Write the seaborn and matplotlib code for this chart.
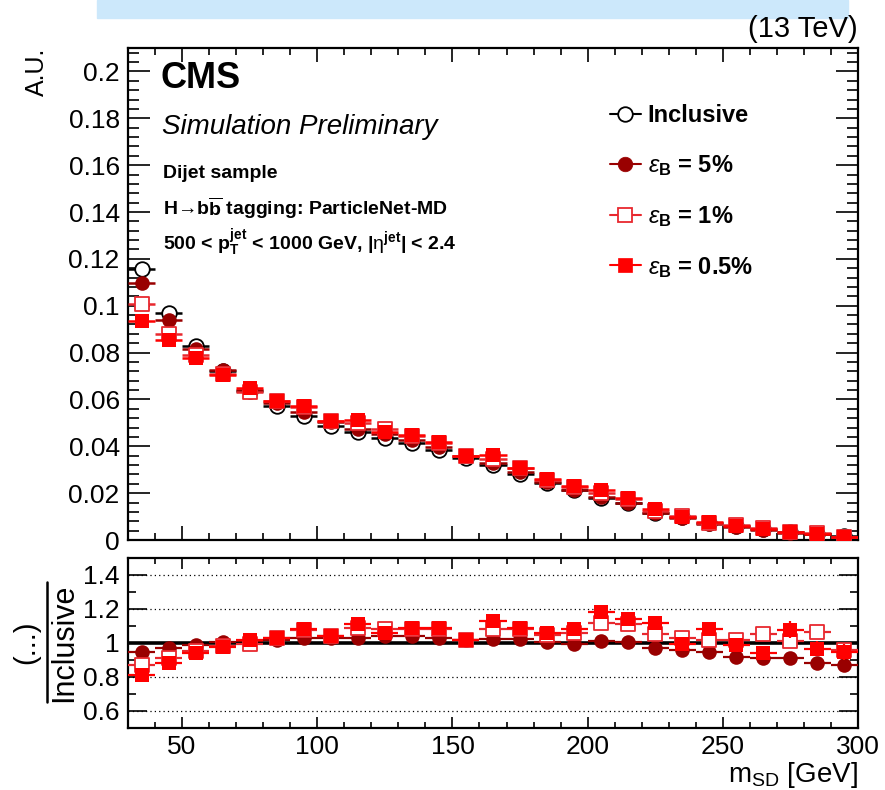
import numpy as np
import pandas as pd
import matplotlib
matplotlib.use("Agg")
import matplotlib.pyplot as plt
import seaborn as sns
from matplotlib.lines import Line2D
from matplotlib.patches import Rectangle
from matplotlib.ticker import MultipleLocator, FormatStrFormatter

# ---------------- data ----------------
bin_centers = [35, 45, 55, 65, 75, 85, 95, 105, 115, 125, 135, 145, 155, 165,
               175, 185, 195, 205, 215, 225, 235, 245, 255, 265, 275, 285, 295]
bin_half_width = 5

inclusive = [0.1156, 0.0968, 0.0827, 0.0722, 0.0635, 0.0574, 0.0530, 0.0488, 0.0460,
             0.0435, 0.0412, 0.0385, 0.0351, 0.0322, 0.0283, 0.0244, 0.0213, 0.0181,
             0.0156, 0.0117, 0.0099, 0.0072, 0.0061, 0.0049, 0.0033, 0.0027, 0.0015]
eff_5pct = [0.1098, 0.0939, 0.0815, 0.0726, 0.0641, 0.0585, 0.0546, 0.0503, 0.0474,
            0.0452, 0.0428, 0.0397, 0.0358, 0.0330, 0.0289, 0.0246, 0.0212, 0.0183,
            0.0157, 0.01135, 0.00950, 0.00684, 0.00561, 0.00446, 0.00300, 0.00238, 0.00131]
eff_1pct = [0.10057, 0.08809, 0.07898, 0.07076, 0.06318, 0.05912, 0.05698, 0.05075, 0.05014,
            0.04720, 0.04450, 0.04158, 0.03580, 0.03478, 0.03056, 0.02562, 0.02258, 0.02027,
            0.01732, 0.01229, 0.01020, 0.00731, 0.00622, 0.00517, 0.00333, 0.00288, 0.00144]
eff_05pct = [0.09364, 0.08518, 0.07774, 0.07040, 0.06477, 0.05912, 0.05724, 0.05075, 0.05106,
             0.04611, 0.04491, 0.04197, 0.03580, 0.03639, 0.03085, 0.02586, 0.02300, 0.02136,
             0.01778, 0.01310, 0.00985, 0.00778, 0.00604, 0.00461, 0.00356, 0.00261, 0.00142]
# relative statistical uncertainties (ratio panel)
unc_1pct = [0.008, 0.008, 0.008, 0.008, 0.009, 0.009, 0.010, 0.010, 0.011, 0.011, 0.012, 0.012,
            0.013, 0.014, 0.014, 0.015, 0.016, 0.018, 0.018, 0.020, 0.021, 0.023, 0.024, 0.026,
            0.028, 0.030, 0.032]
unc_05pct = [0.010, 0.010, 0.010, 0.010, 0.012, 0.012, 0.014, 0.014, 0.016, 0.016, 0.018, 0.018,
             0.020, 0.022, 0.022, 0.024, 0.025, 0.028, 0.028, 0.030, 0.032, 0.036, 0.038, 0.040,
             0.045, 0.045, 0.050]

labels = ["Inclusive", r"$\varepsilon_{\mathbf{B}}$ = 5%",
          r"$\varepsilon_{\mathbf{B}}$ = 1%", r"$\varepsilon_{\mathbf{B}}$ = 0.5%"]

# ---------------- style ----------------
sns.set_theme(style="ticks")
FONT = "Liberation Sans"
plt.rcParams["font.family"] = [FONT, "DejaVu Sans"]
plt.rcParams["mathtext.fontset"] = "custom"
plt.rcParams["mathtext.rm"] = FONT
plt.rcParams["mathtext.it"] = FONT + ":italic"
plt.rcParams["mathtext.bf"] = FONT + ":bold"
plt.rcParams["mathtext.sf"] = FONT
plt.rcParams["axes.linewidth"] = 1.6
for k in ["text.color", "axes.labelcolor", "xtick.color", "ytick.color",
          "axes.edgecolor", "xtick.labelcolor", "ytick.labelcolor"]:
    plt.rcParams[k] = "black"

W, H = 885, 790
fig = plt.figure(figsize=(W / 100, H / 100), dpi=100)
fig.patch.set_facecolor("white")


def fx(px):
    return px / W


def fy(py):
    return 1 - py / H


ax1 = fig.add_axes([fx(128), fy(540), fx(858) - fx(128), fy(48) - fy(540)])
ax2 = fig.add_axes([fx(128), fy(728), fx(858) - fx(128), fy(558) - fy(728)])

# light blue band at top
fig.patches.append(Rectangle((fx(97), fy(18)), fx(848) - fx(97), 18 / H,
                             transform=fig.transFigure, color="#cce8fb", zorder=0))

C_INC = "black"
C_5 = "#990000"
C_1 = "#e8282e"
C_05 = "#ff0000"

x = np.array(bin_centers, dtype=float)
series = [
    (inclusive, C_INC, "o", "white", 1.3, 3),
    (eff_5pct, C_5, "o", C_5, 0.0, 4),
    (eff_1pct, C_1, "s", "white", 1.3, 5),
    (eff_05pct, C_05, "s", C_05, 0.0, 6),
]

MS = 10.5
for vals, col, mk, face, mew, z in series:
    ax1.errorbar(x, vals, xerr=bin_half_width, fmt="none", ecolor=col,
                 elinewidth=1.8, capsize=0, zorder=z)
    df = pd.DataFrame({"m": x, "v": vals})
    sns.scatterplot(data=df, x="m", y="v", ax=ax1, marker=mk, s=MS ** 2,
                    facecolor=face, edgecolor=col, linewidth=mew if mew else 0,
                    zorder=z + 0.5, legend=False)

# ratio panel
inc = np.array(inclusive)
ratio_specs = [
    (eff_5pct, None, C_5, "o", C_5, 0.0, 4),
    (eff_1pct, unc_1pct, C_1, "s", "white", 1.3, 5),
    (eff_05pct, unc_05pct, C_05, "s", C_05, 0.0, 6),
]
ax2.axhline(1.0, color="black", lw=2.6, zorder=2)
for g in [0.6, 0.8, 1.2, 1.4]:
    ax2.axhline(g, color="black", lw=0.9, ls=(0, (1, 2.5)), zorder=1)
for vals, unc, col, mk, face, mew, z in ratio_specs:
    r = np.array(vals) / inc
    yerr = None if unc is None else r * np.array(unc)
    ax2.errorbar(x, r, xerr=bin_half_width, yerr=yerr, fmt="none", ecolor=col,
                 elinewidth=1.6, capsize=0, zorder=z)
    df = pd.DataFrame({"m": x, "r": r})
    sns.scatterplot(data=df, x="m", y="r", ax=ax2, marker=mk, s=MS ** 2,
                    facecolor=face, edgecolor=col, linewidth=mew if mew else 0,
                    zorder=z + 0.5, legend=False)

# axes limits / ticks
for ax in (ax1, ax2):
    ax.set_xlim(30, 300)
    ax.xaxis.set_major_locator(MultipleLocator(50))
    ax.xaxis.set_minor_locator(MultipleLocator(10))
    ax.set_xlabel("")
    ax.set_ylabel("")
    for s in ax.spines.values():
        s.set_visible(True)
        s.set_linewidth(1.6)
        s.set_color("black")
    ax.set_facecolor("white")

ax1.set_ylim(0, 0.21)
ax1.yaxis.set_major_locator(MultipleLocator(0.02))
ax1.yaxis.set_minor_locator(MultipleLocator(0.004))
ax1.yaxis.set_major_formatter(FormatStrFormatter("%g"))
ax1.tick_params(axis="both", which="both", direction="in", top=True, right=True,
                colors="black", labelcolor="black", width=1.2)
ax1.tick_params(axis="y", which="major", length=16, labelsize=19, pad=6)
ax1.tick_params(axis="y", which="minor", length=8)
ax1.tick_params(axis="x", which="major", length=10, labelbottom=False)
ax1.tick_params(axis="x", which="minor", length=5)

ax2.set_ylim(0.5, 1.5)
ax2.yaxis.set_major_locator(MultipleLocator(0.2))
ax2.yaxis.set_minor_locator(MultipleLocator(0.1))
ax2.yaxis.set_major_formatter(FormatStrFormatter("%g"))
ax2.xaxis.set_major_formatter(FormatStrFormatter("%g"))
ax2.tick_params(axis="both", which="both", direction="in", top=True, right=True,
                colors="black", labelcolor="black", width=1.2)
ax2.tick_params(axis="y", which="major", length=14, labelsize=19, pad=6)
ax2.tick_params(axis="y", which="minor", length=6)
ax2.tick_params(axis="x", which="major", length=8, labelsize=19, pad=5)
ax2.tick_params(axis="x", which="minor", length=4)


def ftext(px, py, s, **kw):
    fig.text(fx(px), fy(py), s, color="black", **kw)


# header texts
ftext(858, 37, "(13 TeV)", ha="right", va="baseline", fontsize=21)
ftext(161, 88, "CMS", ha="left", va="baseline", fontsize=26, fontweight="bold")
ftext(162, 134, "Simulation Preliminary", ha="left", va="baseline", fontsize=20,
      fontstyle="italic")
ftext(163, 178, "Dijet sample", ha="left", va="baseline", fontsize=14, fontweight="bold")
ftext(163, 215, r"H→b$\overline{\mathbf{b}}$ tagging: ParticleNet-MD", ha="left",
      va="baseline", fontsize=14, fontweight="bold")
ftext(163, 250, r"500 < $\mathbf{p}_{\mathbf{T}}^{\mathbf{jet}}$ < 1000 GeV, "
      r"|$\mathrm{\eta}^{\mathbf{jet}}$| < 2.4", ha="left", va="baseline",
      fontsize=14, fontweight="bold")

# axis titles
ftext(37, 48, "A.U.", ha="center", va="top", rotation=90, fontsize=18)
ftext(858, 782, r"m$_{\mathrm{SD}}$ [GeV]", ha="right", va="baseline", fontsize=20)
ftext(26, 642, "(...)", ha="center", va="center", rotation=90, fontsize=21)
ftext(64, 643, "Inclusive", ha="center", va="center", rotation=90, fontsize=22)
fig.add_artist(Line2D([fx(47), fx(47)], [fy(582), fy(702)], color="black", lw=1.8,
                      transform=fig.transFigure))

# legend
handles = []
for vals, col, mk, face, mew, z in series:
    handles.append(Line2D([], [], color=col, lw=1.5, marker=mk, ms=MS, mfc=face,
                          mec=col, mew=mew if mew else 0.5))
leg = ax1.legend(handles, labels, loc="upper left", bbox_to_anchor=(fx(610), fy(104)),
                 bbox_transform=fig.transFigure, frameon=False,
                 prop={"family": FONT, "weight": "bold", "size": 17},
                 handlelength=1.3, handletextpad=0.3, labelspacing=1.1,
                 borderpad=0, borderaxespad=0)
for t in leg.get_texts():
    t.set_color("black")

fig.savefig("out.png", dpi=100)
